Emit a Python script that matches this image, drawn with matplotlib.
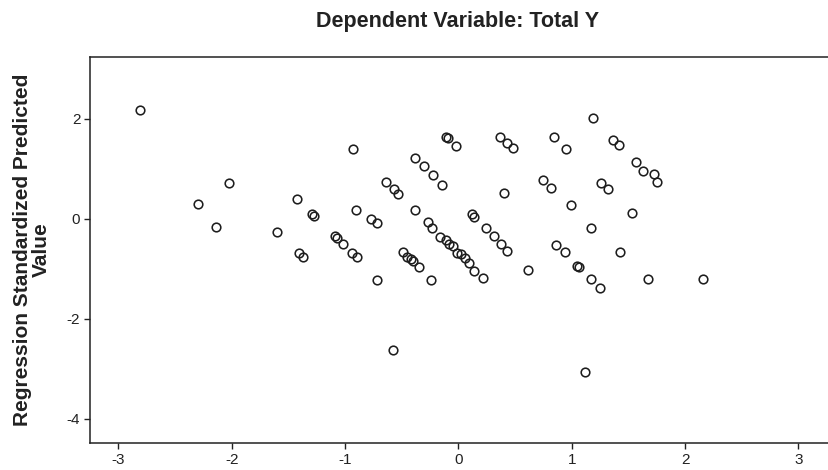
import matplotlib
matplotlib.use("Agg")
import matplotlib.pyplot as plt

# Scatter values (x: regression standardized residual-like axis, y: standardized predicted value)
x_vals = [
    -2.81, -2.02, -2.30, -2.14, -1.42, -1.60, -1.29, -1.27, -1.41, -1.37,
    -1.09, -1.07, -1.02, -0.94, -0.89, -0.93, -0.90, -0.77, -0.72,
    -0.64, -0.57, -0.53, -0.38, -0.30, -0.22, -0.14, -0.38,
    -0.27, -0.23, -0.16, -0.11, -0.08, -0.05, -0.01, 0.02, 0.06, 0.09, 0.14, 0.22,
    -0.72, -0.49, -0.45, -0.42, -0.40, -0.35, -0.24, -0.58,
    -0.11, -0.09, -0.02, 0.12, 0.14, 0.24, 0.31, 0.38, 0.43,
    0.37, 0.43, 0.48, 0.40, 0.84, 0.95, 1.19, 1.36, 1.42, 1.57, 1.63,
    1.73, 1.75, 0.75, 0.82, 1.26, 1.32, 0.99, 1.53, 1.17, 0.86, 0.94,
    1.43, 0.61, 1.05, 1.06, 1.17, 1.25, 1.67, 2.16, 1.12,
]
y_vals = [
    2.18, 0.72, 0.30, -0.16, 0.40, -0.26, 0.10, 0.06, -0.68, -0.76,
    -0.34, -0.38, -0.50, -0.68, -0.76, 1.40, 0.18, 0.00, -0.08,
    0.74, 0.60, 0.50, 1.22, 1.06, 0.88, 0.68, 0.18,
    -0.06, -0.18, -0.36, -0.42, -0.50, -0.54, -0.68, -0.70, -0.78, -0.88, -1.04, -1.18,
    -1.22, -0.66, -0.76, -0.80, -0.84, -0.96, -1.22, -2.62,
    1.64, 1.62, 1.46, 0.10, 0.04, -0.18, -0.34, -0.50, -0.64,
    1.64, 1.52, 1.42, 0.52, 1.64, 1.40, 2.02, 1.58, 1.48, 1.14, 0.96,
    0.90, 0.74, 0.78, 0.62, 0.72, 0.60, 0.28, 0.12, -0.18, -0.52, -0.66,
    -0.66, -1.02, -0.94, -0.96, -1.20, -1.38, -1.20, -1.20, -3.06,
]

x_ticks = [-3, -2, -1, 0, 1, 2, 3]
y_ticks = [2, 0, -2, -4]
title = "Dependent Variable: Total Y"
y_label = "Regression Standardized Predicted\nValue"

plt.rcParams['font.family'] = ['Liberation Sans', 'DejaVu Sans']

fig = plt.figure(figsize=(8.29, 4.70), dpi=100)
ax = fig.add_axes([90 / 829, 1 - 443 / 470, 1 - 90 / 829, (443 - 57) / 470])

ax.plot(x_vals, y_vals, linestyle='none', marker='o', markersize=6.2,
        markerfacecolor='none', markeredgecolor='#1e1e1e', markeredgewidth=1.15)

ax.set_xlim(-3.25, 3.27)
ax.set_ylim(-4.48, 3.24)
ax.set_xticks(x_ticks)
ax.set_yticks(y_ticks)
ax.set_xticklabels([str(t) for t in x_ticks])
ax.set_yticklabels([str(t) for t in y_ticks])
ax.tick_params(direction='out', length=4, width=1.0, labelsize=11, colors='#222222', pad=3)
for side in ['left', 'bottom', 'top']:
    ax.spines[side].set_linewidth(1.1)
    ax.spines[side].set_color('#222222')
ax.spines['right'].set_visible(False)

fig.text(458 / 829, 1 - 21 / 470, title, ha='center', va='center',
         fontsize=15.5, fontweight='bold', color='#222222')
fig.text(32 / 829, 1 - 250 / 470, y_label, ha='center', va='center',
         rotation=90, fontsize=15, fontweight='bold', color='#222222',
         linespacing=0.95, multialignment='center')

fig.savefig('out.png', dpi=100)
